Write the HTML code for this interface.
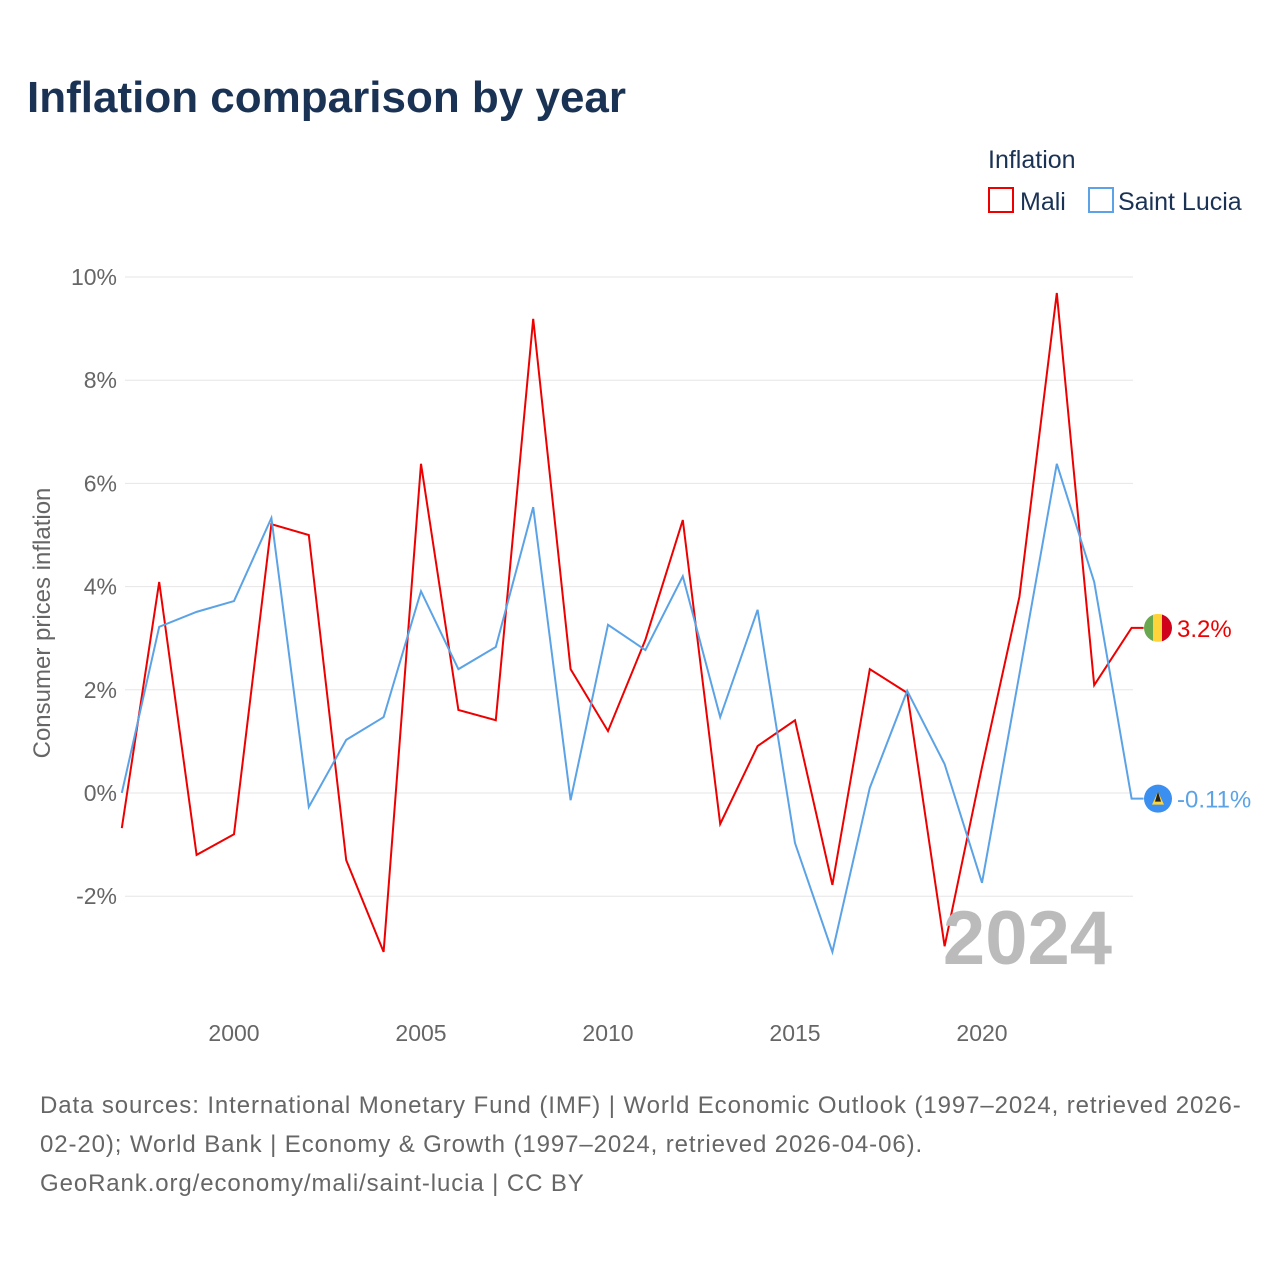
<!DOCTYPE html>
<html><head><meta charset="utf-8"><style>
body{margin:0;width:1280px;height:1280px;background:#fff;font-family:"Liberation Sans",sans-serif;overflow:hidden}
svg text{font-family:"Liberation Sans",sans-serif}
</style></head><body>
<svg id="c" width="1280" height="1280" xmlns="http://www.w3.org/2000/svg">
<text x="27" y="112" font-size="44" font-weight="bold" fill="#1a3254">Inflation comparison by year</text>
<text x="988" y="168" font-size="25" fill="#1a3254">Inflation</text>
<g><rect x="989" y="188" width="24" height="24" fill="none" stroke="#ee0000" stroke-width="2"/><text x="1020" y="210" font-size="25" fill="#1a3254">Mali</text></g>
<g><rect x="1089" y="188" width="24" height="24" fill="none" stroke="#5ba3e6" stroke-width="2"/><text x="1118" y="210" font-size="25" fill="#1a3254">Saint Lucia</text></g>
<text transform="translate(50,623) rotate(-90)" text-anchor="middle" font-size="24" fill="#666">Consumer prices inflation</text>
<g id="grid"></g><g id="xt"></g><g id="lines"></g>
<text x="1112" y="964" text-anchor="end" font-size="76" font-weight="bold" fill="#bbb">2024</text>
<text font-size="24" fill="#666" letter-spacing="0.9"><tspan x="40" y="1113">Data sources: International Monetary Fund (IMF) | World Economic Outlook (1997–2024, retrieved 2026-</tspan><tspan x="40" y="1152">02-20); World Bank | Economy &amp; Growth (1997–2024, retrieved 2026-04-06).</tspan><tspan x="40" y="1191">GeoRank.org/economy/mali/saint-lucia | CC BY</tspan></text>
</svg>
<script>
const years=[1997,1998,1999,2000,2001,2002,2003,2004,2005,2006,2007,2008,2009,2010,2011,2012,2013,2014,2015,2016,2017,2018,2019,2020,2021,2022,2023,2024];
const mali=[-0.68,4.09,-1.2,-0.8,5.21,5.0,-1.3,-3.08,6.38,1.61,1.41,9.19,2.4,1.2,2.97,5.29,-0.6,0.91,1.41,-1.78,2.4,1.94,-2.97,0.5,3.8,9.69,2.09,3.2];
const lucia=[0.0,3.22,3.51,3.72,5.33,-0.27,1.03,1.47,3.91,2.4,2.83,5.54,-0.14,3.26,2.77,4.2,1.47,3.55,-0.97,-3.08,0.1,1.98,0.56,-1.74,2.3,6.38,4.09,-0.11];
const yTicks=[10,8,6,4,2,0,-2];
const yTickLabels=["10%","8%","6%","4%","2%","0%","-2%"];
const xTicks=[2000,2005,2010,2015,2020];
const ns="http://www.w3.org/2000/svg";
const X=v=>121.8+(v-1997)*37.4, Y=v=>793-v*51.6;
function mk(t,a,p){const e=document.createElementNS(ns,t);for(const k in a)e.setAttribute(k,a[k]);p.appendChild(e);return e;}
const g=document.getElementById('grid');
yTicks.forEach((t,i)=>{const l=mk('line',{x1:125,x2:1133,y1:Y(t),y2:Y(t),stroke:'#e6e6e6','stroke-width':1},g);


const tx=mk('text',{x:117,y:Y(t)+8,'text-anchor':'end','font-size':23,fill:'#666'},g);tx.textContent=yTickLabels[i];

});
const xt=document.getElementById('xt');
xTicks.forEach(t=>{const tx=mk('text',{x:X(t),y:1041,'text-anchor':'middle','font-size':23,fill:'#666'},xt);tx.textContent=t;

});
const L=document.getElementById('lines');
function series(vals,col,name,label){
const last=vals[vals.length-1];
let d=vals.map((v,i)=>(i?'L':'M')+X(years[i])+','+Y(v)).join(' ')+' L'+(X(2024)+12)+','+Y(last);
const p=mk('path',{d:d,fill:'none',stroke:col,'stroke-width':2},L);


const tx=mk('text',{x:1177,y:Y(last)+9,'font-size':24,fill:col},L);tx.textContent=label;


return Y(last);}
const ym=series(mali,'#ee0000','mali','3.2%');
const yl=series(lucia,'#5ba3e6','saint-lucia','-0.11%');
const fm=mk('g',{},L);


fm.innerHTML=`<clipPath id="cm"><circle cx="1158" cy="${ym}" r="14"/></clipPath><g clip-path="url(#cm)"><rect x="1144" y="${ym-14}" width="10" height="28" fill="#6aa84f"/><rect x="1153" y="${ym-14}" width="10" height="28" fill="#ffd43b"/><rect x="1162" y="${ym-14}" width="10" height="28" fill="#d0021b"/></g>`;
const fl=mk('g',{},L);


fl.innerHTML=`<circle cx="1158" cy="${yl}" r="14" fill="#3a8ff0"/><polygon points="1158,${yl-7} 1164,${yl+6} 1152,${yl+6}" fill="#ffd43b"/><polygon points="1158,${yl-7} 1161,${yl+3} 1155,${yl+3}" fill="#222"/>`;
</script>
</body></html>
